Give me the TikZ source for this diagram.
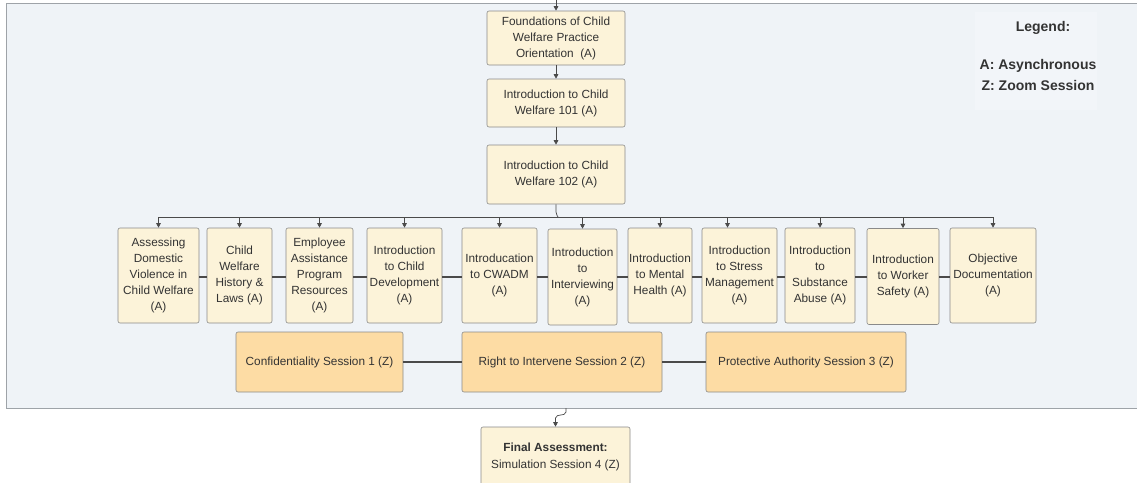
\documentclass[tikz,border=0pt]{standalone}
\usepackage{fontspec}
\setmainfont{Liberation Sans}
\usetikzlibrary{arrows.meta}
\definecolor{cream}{HTML}{FCF3D9}
\definecolor{orng}{HTML}{FDDCA4}
\definecolor{bx}{HTML}{8A8A8A}
\definecolor{txt}{HTML}{333333}
\definecolor{cont}{HTML}{EFF3F7}
\definecolor{contb}{HTML}{9EA3A8}
\definecolor{legbg}{HTML}{F2F5F9}
\definecolor{ln}{HTML}{4A4A4A}
\begin{document}
\begin{tikzpicture}[x=1pt,y=-1pt,
  box/.style={draw=bx, line width=0.6pt, fill=cream, rounded corners=2pt, align=center,
    inner sep=0pt, text=txt, font=\fontsize{11.8}{16}\selectfont},
  sbox/.style={box, fill=orng},
  arr/.style={draw=ln, line width=0.7pt, -{Triangle[length=4.5pt,width=4.5pt]}},
  bus/.style={draw=ln, line width=0.7pt},
  link/.style={draw=ln, line width=1.4pt},
  legtext/.style={inner sep=0pt, text=txt, font=\fontsize{14}{17}\selectfont\bfseries},
]
\useasboundingbox (0,0) rectangle (1137,482);
\clip (0,0) rectangle (1137,482);
\fill[white] (0,0) rectangle (1137,482);
% container
\draw[fill=cont, draw=contb, line width=0.8pt] (6,3) rectangle (1150,408);
% legend
\node[fill=legbg, minimum width=122pt, minimum height=98pt, inner sep=0pt] (leg) at (1036,61) {};
\node[legtext] (lt) at (1043,28) {Legend:};
\node[legtext] (la) at (1038,66) {A: Asynchronous};
\node[legtext] (lz) at (1038,85) {Z: Zoom Session};

% top chain
\node[box, minimum width=138pt, minimum height=54pt] (f) at (556,38) {Foundations of Child\\Welfare Practice\\Orientation\ \ (A)};
\node[box, minimum width=138pt, minimum height=48pt] (i1) at (556,103) {Introduction to Child\\Welfare 101 (A)};
\node[box, minimum width=138pt, minimum height=59pt] (i2) at (556,174.5) {Introduction to Child\\Welfare 102 (A)};
\coordinate (top) at (556,0);
\draw[arr] (top) -- (f.north);
\draw[arr] (f.south) -- (i1.north);
\draw[arr] (i1.south) -- (i2.north);

% row of modules
\node[box, minimum width=81pt, minimum height=95pt] (b1) at (158.5,275.5) {Assessing\\Domestic\\Violence in\\Child Welfare\\(A)};
\node[box, minimum width=65pt, minimum height=95pt] (b2) at (239.5,275.5) {Child\\Welfare\\History \&\\Laws (A)};
\node[box, minimum width=67pt, minimum height=95pt] (b3) at (319.5,275.5) {Employee\\Assistance\\Program\\Resources\\(A)};
\node[box, minimum width=75pt, minimum height=95pt] (b4) at (404.5,275.5) {Introduction\\to Child\\Development\\(A)};
\node[box, minimum width=75pt, minimum height=95pt] (b5) at (499.5,275.5) {Introducation\\to CWADM\\(A)};
\node[box, minimum width=69pt, minimum height=96pt] (b6) at (582.5,277) {Introduction\\to\\Interviewing\\(A)};
\node[box, minimum width=64pt, minimum height=95pt] (b7) at (660,275.5) {Introduction\\to Mental\\Health (A)};
\node[box, minimum width=75pt, minimum height=95pt] (b8) at (739.5,275.5) {Introduction\\to Stress\\Management\\(A)};
\node[box, minimum width=70pt, minimum height=95pt] (b9) at (820,275.5) {Introduction\\to\\Substance\\Abuse (A)};
\node[box, minimum width=72pt, minimum height=96pt] (b10) at (903,276.5) {Introduction\\to Worker\\Safety (A)};
\node[box, minimum width=86pt, minimum height=95pt] (b11) at (993,275.5) {Objective\\Documentation\\(A)};

\coordinate (bj) at (556,217);
\draw[bus, rounded corners=2pt] (i2.south) -- (556,214) -- (558,217);
\draw[bus] (b1.north |- bj) -- (b11.north |- bj);
\foreach \n in {b1,b2,b3,b4,b5,b6,b7,b9,b10,b11}
  \draw[arr] (\n.north |- bj) -- (\n.north);
\draw[arr] ([xshift=-12pt]b8.north |- bj) -- ([xshift=-12pt]b8.north);

\draw[link] (b1.east |- 0,277) -- (b2.west |- 0,277);
\draw[link] (b2.east |- 0,277) -- (b3.west |- 0,277);
\draw[link] (b3.east |- 0,277) -- (b4.west |- 0,277);
\draw[link] (b4.east |- 0,277) -- (b5.west |- 0,277);
\draw[link] (b5.east |- 0,277) -- (b6.west |- 0,277);
\draw[link] (b6.east |- 0,277) -- (b7.west |- 0,277);
\draw[link] (b7.east |- 0,277) -- (b8.west |- 0,277);
\draw[link] (b8.east |- 0,277) -- (b9.west |- 0,277);
\draw[link] (b9.east |- 0,277) -- (b10.west |- 0,277);
\draw[link] (b10.east |- 0,277) -- (b11.west |- 0,277);

% zoom sessions
\node[sbox, minimum width=167pt, minimum height=60pt] (s1) at (319.5,362) {Confidentiality Session 1 (Z)};
\node[sbox, minimum width=200pt, minimum height=60pt] (s2) at (562,362) {Right to Intervene Session 2 (Z)};
\node[sbox, minimum width=200pt, minimum height=60pt] (s3) at (806,362) {Protective Authority Session 3 (Z)};
\draw[link] (s1.east) -- (s2.west);
\draw[link] (s2.east) -- (s3.west);

% final
\node[box, minimum width=149pt, minimum height=59pt, font=\fontsize{11.8}{17}\selectfont] (fin) at (555.5,456.5) {\textbf{Final Assessment:}\\Simulation Session 4 (Z)};
\coordinate (cb) at (566,408);
\draw[arr, rounded corners=2pt] (cb) -- (566,414) -- (555.5,416) -- (fin.north);
\end{tikzpicture}
\end{document}
